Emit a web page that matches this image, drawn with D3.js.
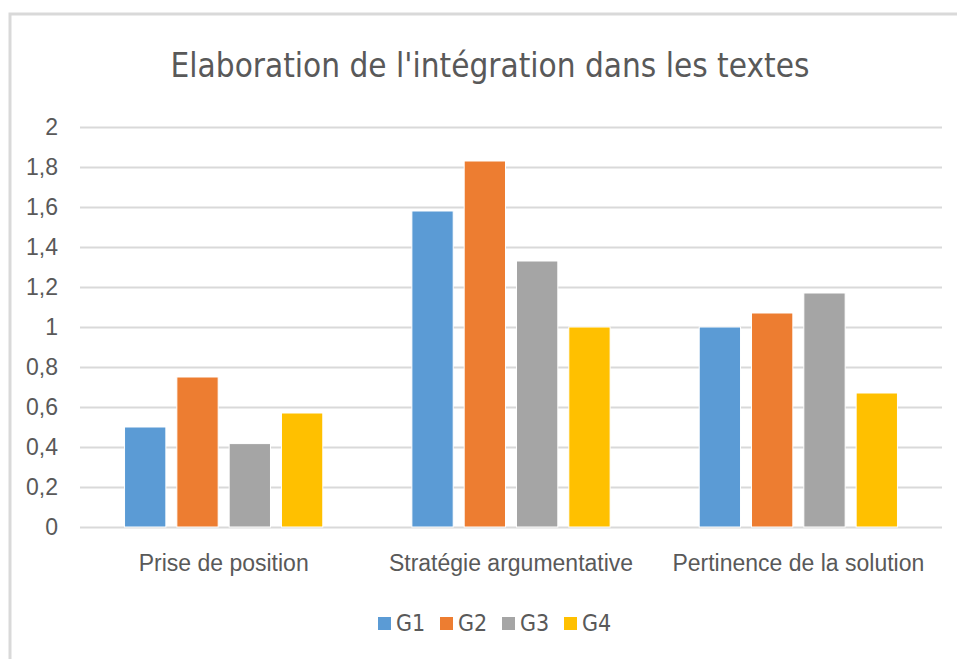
<!DOCTYPE html>
<html>
<head>
<meta charset="utf-8">
<style>
    body { margin: 0; background: #fff; }
    svg { display: block; font-family: 'Liberation Sans Narrow', 'DejaVu Sans Condensed', Arial, sans-serif; }
    .title { font-size: 33px; fill: #595959; }
    .y .tick text { font-size: 23px; fill: #595959; }
    .x .tick text { font-size: 23px; fill: #595959; }
    .y .tick line { stroke: #d9d9d9; stroke-width: 2; }
    .domain { display: none; }
    .legend text { font-size: 23px; fill: #595959; }
</style>
</head>
<body>
<svg width="957" height="659"></svg>
<script src="https://d3js.org/d3.v7.min.js"></script>
<script>
    let categories = ["Prise de position", "Stratégie argumentative", "Pertinence de la solution"];
    let groups = ["G1", "G2", "G3", "G4"];
    let colors = ["#5B9BD5", "#ED7D31", "#A5A5A5", "#FFC000"];
    // one array per group, one value per category
    let G1 = [0.5, 1.58, 1.0];
    let G2 = [0.75, 1.83, 1.07];
    let G3 = [0.417, 1.33, 1.17];
    let G4 = [0.57, 1.0, 0.67];
    let yTicks = [0, 0.2, 0.4, 0.6, 0.8, 1, 1.2, 1.4, 1.6, 1.8, 2];

    let series = [G1, G2, G3, G4];
    let data = categories.map((c, i) => ({
        cat: c,
        values: groups.map((g, j) => ({ group: g, value: series[j][i] }))
    }));

    let svg = d3.select("svg");

    // chart frame (only top and left edges show in the picture)
    svg.append("rect")
        .attr("x", 10).attr("y", 14)
        .attr("width", 1000).attr("height", 700)
        .attr("fill", "none")
        .attr("stroke", "#d9d9d9")
        .attr("stroke-width", 3);

    svg.append("text")
        .attr("class", "title")
        .attr("x", 490)
        .attr("y", 77)
        .attr("text-anchor", "middle")
        .text("Elaboration de l'intégration dans les textes");

    let margin = { top: 127, right: 15, bottom: 132, left: 80 };
    let W = 957, H = 659;

    let x0 = d3.scaleBand()
        .domain(categories)
        .range([margin.left, W - margin.right])
        .padding(0);

    let x1 = d3.scaleBand()
        .domain(groups)
        .range([x0.bandwidth() * 0.155, x0.bandwidth() * 0.845])
        .paddingInner(0.21);

    let y = d3.scaleLinear()
        .domain([0, 2])
        .range([H - margin.bottom, margin.top]);

    let color = d3.scaleOrdinal().domain(groups).range(colors);

    svg.append("g")
        .attr("class", "y axis")
        .attr("transform", `translate(${margin.left},0)`)
        .call(d3.axisLeft(y)
            .tickValues(yTicks)
            .tickSize(-(W - margin.right - margin.left))
            .tickPadding(22)
            .tickFormat(d => d3.format("~g")(d).replace(".", ",")));

    svg.append("g")
        .selectAll("g")
        .data(data)
        .join("g")
        .attr("transform", d => `translate(${x0(d.cat)},0)`)
        .selectAll("rect")
        .data(d => d.values)
        .join("rect")
        .attr("x", d => x1(d.group))
        .attr("width", x1.bandwidth())
        .attr("y", d => y(d.value))
        .attr("height", d => y(0) - y(d.value))
        .attr("fill", d => color(d.group))
        .attr("stroke", "#fff")
        .attr("stroke-width", 1);

    svg.append("g")
        .attr("class", "x axis")
        .attr("transform", `translate(0,${y(0)})`)
        .call(d3.axisBottom(x0).tickSize(0).tickPadding(28));

    // legend
    let legend = svg.append("g")
        .attr("class", "legend")
        .selectAll("g")
        .data(groups)
        .join("g")
        .attr("transform", (d, i) => `translate(${378 + i * 62},617)`);

    legend.append("rect")
        .attr("width", 13).attr("height", 13)
        .attr("fill", d => color(d));

    legend.append("text")
        .attr("x", 18)
        .attr("y", 14)
        .text(d => d);
</script>
</body>
</html>
